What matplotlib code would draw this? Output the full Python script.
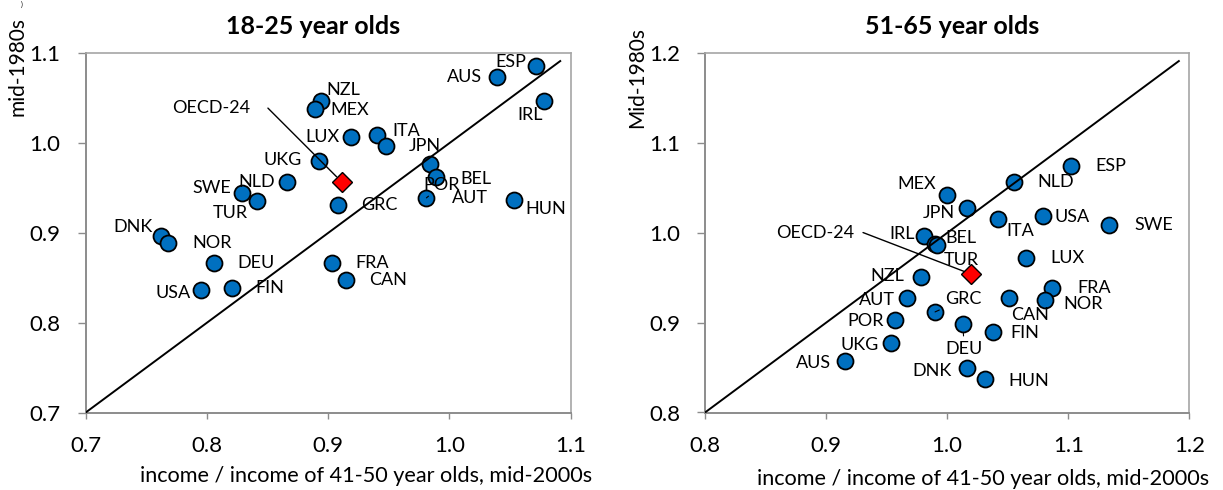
import matplotlib
matplotlib.use("Agg")
import matplotlib.pyplot as plt
from matplotlib.ticker import FormatStrFormatter

plt.rcParams['font.family'] = ['Lato', 'DejaVu Sans']

# ---- 18-25 year olds --------------------------------------------------------
young_countries = ["ESP", "AUS", "IRL", "NZL", "MEX", "LUX", "ITA", "JPN", "AUT", "BEL",
                   "POR", "HUN", "UKG", "NLD", "SWE", "TUR", "GRC", "DNK", "NOR", "DEU",
                   "USA", "FIN", "FRA", "CAN"]
young_2000s = [1.071, 1.039, 1.078, 0.894, 0.889, 0.919, 0.940, 0.948, 0.984, 0.989,
               0.981, 1.053, 0.892, 0.866, 0.829, 0.841, 0.908, 0.762, 0.768, 0.806,
               0.795, 0.821, 0.903, 0.915]
young_1980s = [1.086, 1.074, 1.047, 1.047, 1.038, 1.007, 1.009, 0.997, 0.977, 0.962,
               0.939, 0.937, 0.980, 0.957, 0.944, 0.935, 0.931, 0.897, 0.889, 0.867,
               0.836, 0.839, 0.866, 0.848]
young_oecd = (0.911, 0.957)

# ---- 51-65 year olds --------------------------------------------------------
old_countries = ["MEX", "NLD", "ESP", "JPN", "ITA", "USA", "SWE", "IRL", "TUR", "BEL",
                 "LUX", "NZL", "FRA", "AUT", "GRC", "NOR", "CAN", "POR", "FIN", "UKG",
                 "DEU", "AUS", "DNK", "HUN"]
old_2000s = [1.000, 1.055, 1.102, 1.016, 1.042, 1.079, 1.134, 0.981, 0.990, 0.992,
             1.065, 0.978, 1.087, 0.967, 0.990, 1.081, 1.051, 0.957, 1.038, 0.954,
             1.013, 0.916, 1.016, 1.031]
old_1980s = [1.042, 1.057, 1.075, 1.028, 1.016, 1.019, 1.009, 0.997, 0.988, 0.987,
             0.972, 0.951, 0.939, 0.927, 0.912, 0.925, 0.927, 0.903, 0.890, 0.877,
             0.898, 0.857, 0.849, 0.837]
old_oecd = (1.020, 0.954)

# label offsets from each marker (points)
young_offsets = {
    "ESP": (-18, 3), "AUS": (-23, 0), "IRL": (-10, -10), "NZL": (16, 8), "MEX": (25, -1),
    "LUX": (-21, 0), "ITA": (21, 3), "JPN": (28, 0), "AUT": (29, -25), "BEL": (29, -1),
    "POR": (11, 9), "HUN": (23, -7), "UKG": (-26, 1), "NLD": (-22, 0), "SWE": (-22, 4),
    "TUR": (-19, -8), "GRC": (30, 0), "DNK": (-20, 6), "NOR": (32, 0), "DEU": (30, 0),
    "USA": (-20, -2), "FIN": (27, 0), "FRA": (29, 0), "CAN": (30, 0),
}
old_offsets = {
    "MEX": (-22, 8), "NLD": (30, 0), "ESP": (29, 0), "JPN": (-20, -4), "ITA": (16, -9),
    "USA": (21, -1), "SWE": (32, 0), "IRL": (-16, 1), "TUR": (19, -12), "BEL": (17, 5),
    "LUX": (30, 0), "NZL": (-24, 1), "FRA": (30, 0), "AUT": (-22, -1), "GRC": (20, 9),
    "NOR": (27, -3), "CAN": (15, -12), "POR": (-21, -1), "FIN": (23, -1), "UKG": (-23, -1),
    "DEU": (1, -18), "AUS": (-23, -1), "DNK": (-25, -2), "HUN": (32, -1),
}
young_leaders = {"POR"}
old_leaders = {"GRC", "DEU"}

BLUE = "#0070C0"
AX_DARK = "#8c8c8c"
AX_LIGHT = "#a6a6a6"

W, H = 1223, 490
fig = plt.figure(figsize=(W / 100, H / 100), dpi=100)


def panel(rect, lo, hi, xs, ys, names, offsets, leaders, oecd, oecd_line, oecd_text):
    ax = fig.add_axes(rect)
    ax.set_xlim(lo, hi)
    ax.set_ylim(lo, hi)
    ticks = [round(lo + 0.1 * i, 1) for i in range(5)]
    ax.set_xticks(ticks)
    ax.set_yticks(ticks)
    ax.xaxis.set_major_formatter(FormatStrFormatter('%.1f'))
    ax.yaxis.set_major_formatter(FormatStrFormatter('%.1f'))
    ax.tick_params(axis='x', direction='out', length=4, width=1, color=AX_DARK,
                   labelsize=16, pad=13)
    ax.tick_params(axis='y', direction='out', length=6, width=1, color=AX_DARK,
                   labelsize=16, pad=12)
    for side in ('left', 'bottom'):
        ax.spines[side].set_color(AX_DARK)
        ax.spines[side].set_linewidth(1.4)
    for side in ('top', 'right'):
        ax.spines[side].set_color(AX_LIGHT)
        ax.spines[side].set_linewidth(1.2)

    # 45-degree reference line
    diag_end = hi - 0.008
    ax.plot([lo, diag_end], [lo, diag_end], color='black', lw=1.4, zorder=4,
            solid_capstyle='butt')

    ax.plot(xs, ys, 'o', ms=11.5, mfc=BLUE, mec='black', mew=1.3, zorder=3,
            linestyle='none')
    ax.plot([oecd[0]], [oecd[1]], 'D', ms=10, mfc='#FF0000', mec='black', mew=1.0,
            zorder=5)

    for name, x, y in zip(names, xs, ys):
        dx, dy = offsets[name]
        kw = {}
        if name in leaders:
            kw['arrowprops'] = dict(arrowstyle='-', color='black', lw=0.8,
                                    shrinkA=2, shrinkB=6)
        ax.annotate(name, xy=(x, y), xytext=(dx, dy), textcoords='offset points',
                    ha='center', va='center', fontsize=13, color='black', zorder=6, **kw)

    ax.annotate('', xy=oecd, xytext=oecd_line, textcoords='offset points',
                arrowprops=dict(arrowstyle='-', color='black', lw=1.0,
                                shrinkA=0, shrinkB=5), zorder=4)
    ax.annotate('OECD-24', xy=oecd, xytext=oecd_text, textcoords='offset points',
                ha='right', va='center', fontsize=13, color='black', zorder=6)
    return ax


bottom = 1 - 412.5 / H
height = (412.5 - 53.3) / H

panel([85.7 / W, bottom, (570.7 - 85.7) / W, height], 0.7, 1.1,
      young_2000s, young_1980s, young_countries, young_offsets, young_leaders,
      young_oecd, (-53, 53), (-66, 53))
panel([705.0 / W, bottom, (1189.3 - 705.0) / W, height], 0.8, 1.2,
      old_2000s, old_1980s, old_countries, old_offsets, old_leaders,
      old_oecd, (-78, 30), (-84, 30))

fig.text(313.5 / W, 1 - 27 / H, '18-25 year olds', ha='center', va='center',
         fontsize=18, fontweight='bold')
fig.text(952 / W, 1 - 26 / H, '51-65 year olds', ha='center', va='center',
         fontsize=18, fontweight='bold')

xlab = 'income / income of 41-50 year olds, mid-2000s'
fig.text(366 / W, 1 - 476 / H, xlab, ha='center', va='center', fontsize=15.6)
fig.text(983 / W, 1 - 479 / H, xlab, ha='center', va='center', fontsize=15.6)

fig.text(18 / W, 1 - 67 / H, 'mid-1980s', rotation=90, ha='center', va='center',
         fontsize=15)
fig.text(637 / W, 1 - 77 / H, 'Mid-1980s', rotation=90, ha='center', va='center',
         fontsize=15)

fig.text(22 / W, 1 - 1 / H, ')', ha='center', va='top', fontsize=5)

fig.savefig('out.png', dpi=100)
